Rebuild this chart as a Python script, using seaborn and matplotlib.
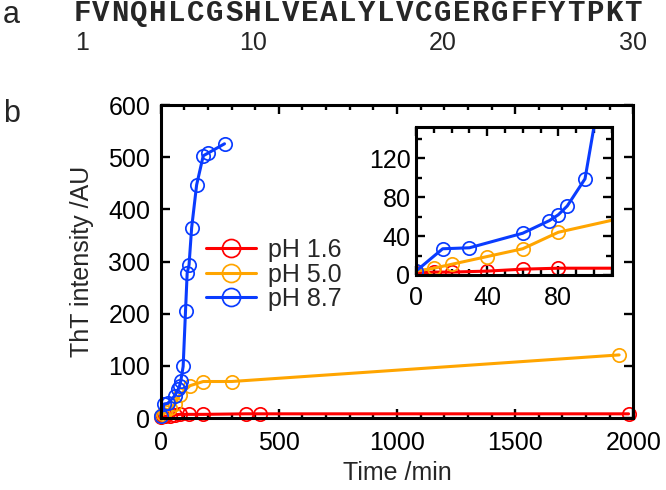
import matplotlib
matplotlib.use("Agg")
import matplotlib.pyplot as plt
import numpy as np
import pandas as pd
import seaborn as sns
from matplotlib.ticker import MultipleLocator

# peptide sequence (panel a)
sequence = "FVNQHLCGSHLVEALYLVCGERGFFYTPKT"
residue_marks = [1, 10, 20, 30]

# ThT kinetics (panel b)
labels = ["pH 1.6", "pH 5.0", "pH 8.7"]
colors = ["#ff0000", "#ffa500", "#0a3cff"]

time_16 = [0, 10, 20, 40, 60, 80, 120, 180, 360, 420, 1980]
tht_16 = [2, 3, 3, 4, 6, 7, 7, 7, 8, 8, 8]

time_50 = [0, 10, 20, 40, 60, 80, 124, 180, 300, 1940]
tht_50 = [4, 7, 11, 19, 27, 44, 62, 70, 70, 121]

time_87 = [0, 15, 30, 60, 75, 80, 85, 95, 105, 112, 120, 131, 152, 180, 200, 270]
tht_87 = [4, 27, 28, 43, 56, 62, 71, 99, 205, 278, 294, 365, 447, 503, 508, 526]

series = [(time_16, tht_16), (time_50, tht_50), (time_87, tht_87)]


def style_axes(ax, lw=2.2):
    for sp in ax.spines.values():
        sp.set_linewidth(lw)
        sp.set_color("black")
        sp.set_visible(True)


def draw_series(ax, ms, clip):
    for (t, y), lab, col in zip(series, labels, colors):
        df = pd.DataFrame({"time": t, "tht": y})
        sns.lineplot(data=df, x="time", y="tht", ax=ax, color=col, label=lab,
                     marker="o", markersize=ms, mfc="none", mec=col, mew=1.25,
                     linewidth=2.2, estimator=None, sort=False, clip_on=clip,
                     legend=False)


sns.set_theme(style="ticks")
plt.rcParams["font.family"] = ["Liberation Sans", "DejaVu Sans"]

fig = plt.figure(figsize=(6.66, 4.90), dpi=100)

# panel a
W, H = 666.0, 490.0
fig.text(3 / W, 1 - 15 / H, "a", fontsize=22, ha="left", va="center")
pitch = 19.0
x0 = 82.0
for i, ch in enumerate(sequence):
    fig.text((x0 + i * pitch) / W, 1 - 21 / H, ch, fontsize=21, fontweight="bold",
             family="Liberation Mono", ha="center", va="baseline")
for n in residue_marks:
    fig.text((x0 + (n - 1) * pitch) / W, 1 - 50 / H, str(n), fontsize=18,
             ha="center", va="baseline")

fig.text(3 / W, 1 - 114 / H, "b", fontsize=22, ha="left", va="center")

# main axes
ax = fig.add_axes([160.7 / W, 1 - 418 / H, 472.6 / W, 312.8 / H])
draw_series(ax, 9.6, False)
ax.set_xlim(0, 2000)
ax.set_ylim(0, 600)
ax.xaxis.set_major_locator(MultipleLocator(500))
ax.xaxis.set_minor_locator(MultipleLocator(100))
ax.yaxis.set_major_locator(MultipleLocator(100))
ax.tick_params(which="both", direction="in", top=True, right=True, width=1.7,
               colors="black", labelsize=18)
ax.tick_params(which="major", length=6.5)
ax.tick_params(which="minor", length=3.5)
ax.tick_params(axis="x", pad=9)
ax.tick_params(axis="y", pad=7.5)
ax.set_xlabel("Time /min", fontsize=18, labelpad=5)
ax.set_ylabel("ThT intensity /AU", fontsize=18, labelpad=10)
style_axes(ax)

handles, labs = ax.get_legend_handles_labels()
ax.legend(handles, labs, loc="upper left", bbox_to_anchor=(206 / W, 1 - 238 / H),
          bbox_transform=fig.transFigure, frameon=False, fontsize=18,
          handlelength=2.0, handletextpad=0.5, labelspacing=0.02,
          borderpad=0, borderaxespad=0, markerscale=1.35)

# inset
axi = fig.add_axes([416 / W, 1 - 275 / H, 195.7 / W, 147.7 / H])
draw_series(axi, 9.6, True)
axi.set_xlim(0, 110)
axi.set_ylim(0, 152)
axi.xaxis.set_major_locator(MultipleLocator(40))
axi.xaxis.set_minor_locator(MultipleLocator(10))
axi.yaxis.set_major_locator(MultipleLocator(40))
axi.yaxis.set_minor_locator(MultipleLocator(20))
axi.tick_params(which="both", direction="in", top=True, right=True, width=1.7,
                colors="black", labelsize=18)
axi.tick_params(which="major", length=6.5)
axi.tick_params(which="minor", length=4)
axi.tick_params(axis="x", pad=8)
axi.tick_params(axis="y", pad=4)
axi.set_xlabel("")
axi.set_ylabel("")
style_axes(axi)

fig.savefig("out.png", dpi=100)
